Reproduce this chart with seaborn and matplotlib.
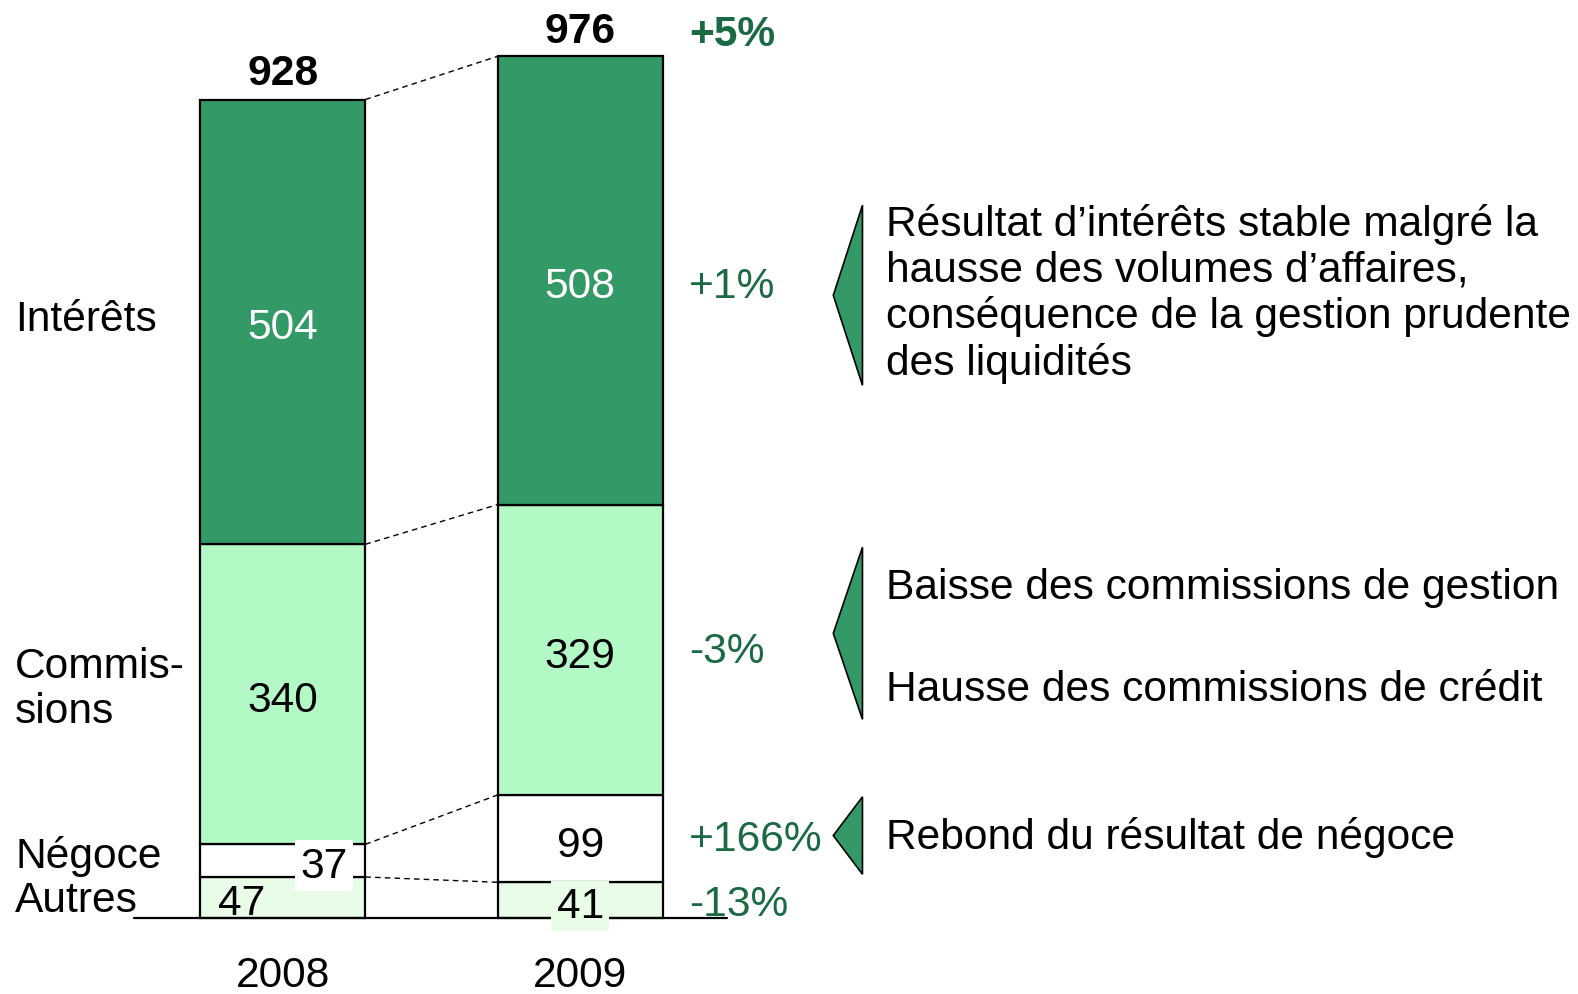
import matplotlib.pyplot as plt
from matplotlib.patches import Polygon
import seaborn as sns
import numpy as np

# ===== DATA =====
years = ["2008", "2009"]
autres = [47, 41]
negoce = [37, 99]
commissions = [340, 329]
interets = [504, 508]
totals = [928, 976]
var_total = "+5%"
var_interets = "+1%"
var_commissions = "-3%"
var_negoce = "+166%"
var_autres = "-13%"

row_labels = ["Intérêts", "Commis-", "sions", "Négoce", "Autres"]
note_interets = ["Résultat d\u2019intérêts stable malgré la",
                 "hausse des volumes d\u2019affaires,",
                 "conséquence de la gestion prudente",
                 "des liquidités"]
note_commissions = ["Baisse des commissions de gestion",
                    "Hausse des commissions de crédit"]
note_negoce = ["Rebond du résultat de négoce"]

# ===== STYLE =====
sns.set_style("white")
plt.rcParams["font.family"] = ["Liberation Sans", "DejaVu Sans"]
plt.rcParams["text.color"] = "black"

DARK = "#339966"
LIGHT = "#B3F9C5"
PALE = "#E8FCE8"
PCT = "#1a6a44"
FS = 30.6

fig = plt.figure(figsize=(15.78, 9.95), dpi=100)
ax = fig.add_axes([0, 0, 1, 1])


def fx(x):
    return x / 1568


def fy(y):
    # text centre in reference pixels, nudged for glyph descent
    return 1 - (y + 3) / 989


# stacked bars
layers = [autres, negoce, commissions, interets]
colors = [PALE, "white", LIGHT, DARK]
bottom = np.zeros(2)
bottoms = []
W = 0.555
for vals, col in zip(layers, colors):
    sns.barplot(x=years, y=vals, bottom=bottom, color=col, width=W,
                edgecolor="black", linewidth=1.6, errorbar=None,
                saturation=1, ax=ax, zorder=3)
    bottoms.append(bottom.copy())
    bottom = bottom + np.array(vals)
tops = [b + np.array(v) for b, v in zip(bottoms, layers)]

# connector lines between bars
for t in tops:
    ax.plot([W / 2, 1 - W / 2], [t[0], t[1]], color="black", lw=1,
            ls=(0, (4, 3)), zorder=2)

# baseline
ax.plot([-0.501, 1.492], [0, 0], color="black", lw=1.6, zorder=4)

ax.set_xlim(-0.951, 4.355)
ax.set_ylim(-85.6, 1041.9)
ax.set_axis_off()

# value labels
for i in range(2):
    ax.text(i, bottoms[3][i] + interets[i] / 2 - 6, str(interets[i]),
            ha="center", va="center", fontsize=FS, color="white", zorder=5)
    ax.text(i, bottoms[2][i] + commissions[i] / 2 - 7, str(commissions[i]),
            ha="center", va="center", fontsize=FS, zorder=5)
    ax.text(i, totals[i] + 30, str(totals[i]), ha="center", va="center",
            fontsize=FS, fontweight="bold", zorder=5)

ax.text(1, bottoms[1][1] + negoce[1] / 2 - 7, str(negoce[1]), ha="center",
        va="center", fontsize=FS, zorder=5)
ax.text(0.138, bottoms[1][0] + 13, str(negoce[0]), ha="center", va="center",
        fontsize=FS, zorder=5,
        bbox=dict(facecolor="white", edgecolor="none", boxstyle="square,pad=0.12"))
ax.text(-0.138, autres[0] / 2 - 6, str(autres[0]), ha="center", va="center",
        fontsize=FS, zorder=5)
ax.text(1, autres[1] / 2 - 6, str(autres[1]), ha="center", va="center",
        fontsize=FS, zorder=5,
        bbox=dict(facecolor=PALE, edgecolor="none", boxstyle="square,pad=0.12"))

# year labels
for i, yr in enumerate(years):
    ax.text(i, -64, yr, ha="center", va="center", fontsize=FS)

# left row labels
for lab, y in zip(row_labels, [315, 660, 705, 848, 893]):
    fig.text(fx(15), fy(y), lab, ha="left", va="center", fontsize=FS)

# percentages
fig.text(fx(685), fy(32), var_total, ha="left", va="center", fontsize=FS,
         fontweight="bold", color=PCT)
for txt, y in [(var_interets, 282), (var_commissions, 645),
               (var_negoce, 832), (var_autres, 897)]:
    fig.text(fx(685), fy(y), txt, ha="left", va="center", fontsize=FS, color=PCT)

# brackets
for top, bot in [(205, 384), (545, 716), (793, 870)]:
    tri = Polygon([(fx(857), 1 - top / 989), (fx(828), 1 - (top + bot) / 2 / 989),
                   (fx(857), 1 - bot / 989)], closed=True, facecolor=DARK,
                  edgecolor="black", lw=1.2, transform=fig.transFigure)
    fig.add_artist(tri)

# notes
for lines, ys in [(note_interets, [220, 266, 312, 358]),
                  (note_commissions, [581, 683]),
                  (note_negoce, [829])]:
    for line, y in zip(lines, ys):
        fig.text(fx(880), fy(y), line, ha="left", va="center", fontsize=FS)

fig.savefig("out.png", dpi=100)
